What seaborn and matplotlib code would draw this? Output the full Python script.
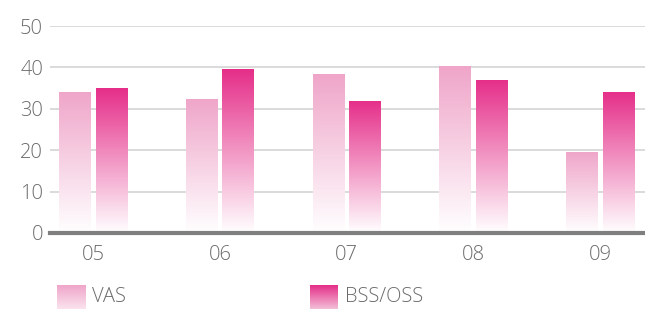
import numpy as np
import pandas as pd
import matplotlib
matplotlib.use("Agg")
import matplotlib.pyplot as plt
import matplotlib.colors as mcolors
import seaborn as sns

# chart data
years = ["05", "06", "07", "08", "09"]
vas = [34.1, 32.4, 38.4, 40.3, 19.6]
bss_oss = [35.0, 39.6, 31.9, 37.0, 34.1]
series = ["VAS", "BSS/OSS"]
top_colors = {"VAS": "#efa5c9", "BSS/OSS": "#e52e89"}

df = pd.DataFrame({
    "year": years * 2,
    "series": ["VAS"] * len(years) + ["BSS/OSS"] * len(years),
    "value": vas + bss_oss,
})

sns.set_style("white")
plt.rcParams["font.family"] = ["Open Sans", "DejaVu Sans"]
plt.rcParams["font.weight"] = "light"
text_color = "#6b6b6b"


def gradient(top, bottom="#ffffff"):
    t = np.array(mcolors.to_rgb(top))
    b = np.array(mcolors.to_rgb(bottom))
    f = np.linspace(0, 1, 256)[:, None]
    rgb = b + (t - b) * f
    return rgb[:, None, :]


fig = plt.figure(figsize=(6.45, 3.09), dpi=100)
ax = fig.add_axes([50 / 645, 1 - 233 / 309, 1 - 50 / 645, (233 - 26) / 309])

sns.barplot(data=df, x="year", y="value", hue="series", hue_order=series,
            palette=top_colors, width=0.58, gap=0.135, ax=ax, legend=False)

# replace flat bar fills with vertical gradients
n = len(years)
for i, bar in enumerate(ax.patches[:2 * n]):
    name = series[i // n]
    x0, y0 = bar.get_x(), bar.get_y()
    w, h = bar.get_width(), bar.get_height()
    img = ax.imshow(gradient(top_colors[name]), origin="lower", aspect="auto",
                    extent=[x0, x0 + w, y0, y0 + h], zorder=2,
                    interpolation="bilinear")
    img.set_clip_path(bar)
    bar.set_facecolor("none")
    bar.set_edgecolor("none")

ax.set_xlim(-0.34, 4.35)
ax.set_ylim(0, 50)
ax.set_yticks([0, 10, 20, 30, 40, 50])
ax.yaxis.grid(True, color="#d4d4d4", linewidth=1.2)
ax.set_axisbelow(True)
for s in ["top", "right", "left"]:
    ax.spines[s].set_visible(False)
ax.spines["bottom"].set_color("#7f7f7f")
ax.spines["bottom"].set_linewidth(3)
ax.tick_params(axis="both", length=0, labelsize=14.5, labelcolor=text_color)
ax.tick_params(axis="x", pad=9)
ax.tick_params(axis="y", pad=5)
ax.set_xlabel("")
ax.set_ylabel("")

# legend with gradient swatches
legend_items = [("VAS", 57, "#fbe3ee"), ("BSS/OSS", 310, "#f3bfd7")]
for name, px, bottom in legend_items:
    lax = fig.add_axes([px / 645, 0, 28 / 645, 24 / 309])
    lax.imshow(gradient(top_colors[name], bottom), origin="lower", aspect="auto",
               extent=[0, 1, 0, 1])
    lax.set_axis_off()
    fig.text((px + 35) / 645, 1 - 297 / 309, name, fontsize=14.5,
             color=text_color, va="center", ha="left")

fig.savefig("out.png", dpi=100)
